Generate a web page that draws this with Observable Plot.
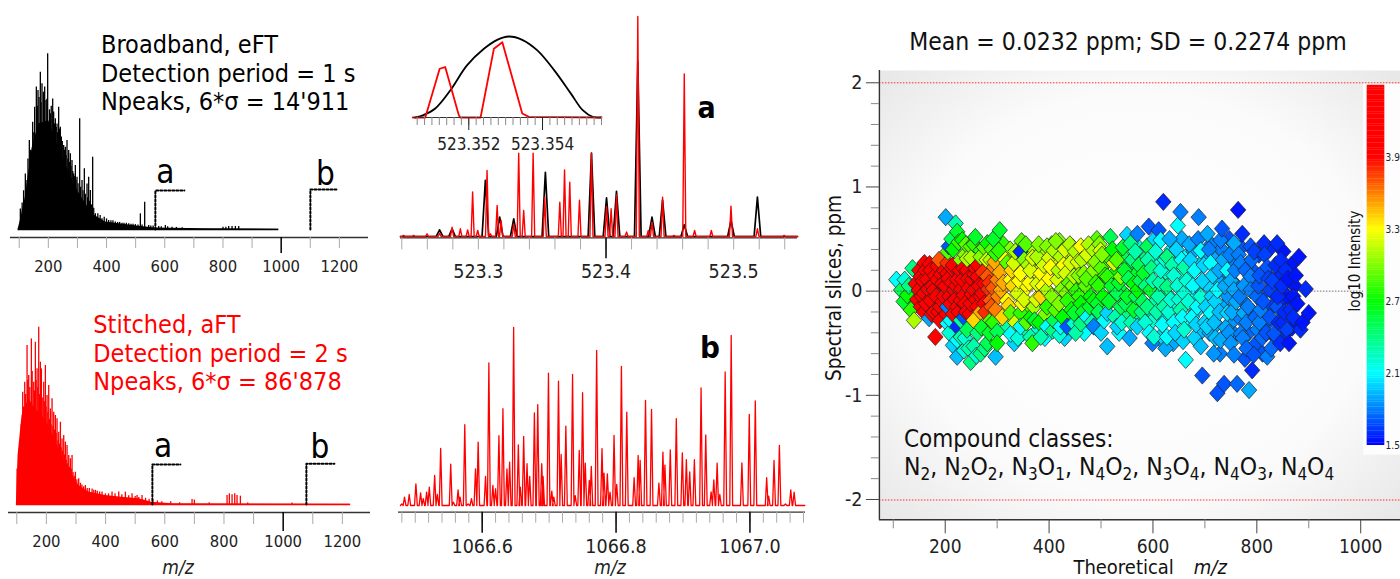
<!DOCTYPE html>
<html><head><meta charset="utf-8">
<script src="https://cdn.jsdelivr.net/npm/d3@7"></script>
<script src="https://cdn.jsdelivr.net/npm/@observablehq/plot@0.6"></script>
<style>
body{margin:0;background:#fff;}
#root{position:relative;width:1400px;height:579px;overflow:hidden;background:#fff;}
</style></head>
<body><div id="root"></div>
<script>
const FONT = "'DejaVu Sans Condensed','DejaVu Sans',sans-serif";

// ---------- Broadband eFT spectrum (top-left): [m/z, relative intensity]
const bbEnvelope = [[96,0],[103.8,5.1],[121,18.4],[143.9,46],[166.8,60],[201.1,62],[235.5,46],[269.9,33],[304.2,21],[350,8.9],[395.9,4.2],[510.4,1.9],[567.7,0.9],[739.5,0.4],[991.5,0.2],[992,0]];
const bbPeaks = [[103.8,11.7],[110,15],[115,22],[121.0,31.6],[126.7,27.8],[130,40],[134.7,50.6],[139,45],[146.2,61.0],[150,55],[153.0,69.5],[158.8,80.9],[162,70],[164.5,79.0],[168,75],[172.5,89.4],[175,72],[178.2,82.8],[183,78],[187.4,80.9],[192.0,73.3],[195,74],[197.7,99.8],[201.1,60.0],[204,68],[206.9,65.7],[210,70],[214.9,74.2],[218.3,66.7],[221,60],[224.1,62.9],[227,58],[229.8,60.0],[232,55],[235.5,69.5],[238,57],[241.2,58.1],[244.7,52.5],[248,50],[252.7,47.7],[255,45],[258.4,46.8],[261,42],[264.1,50.6],[267,40],[269.9,44.9],[272,38],[275.6,43.0],[278,36],[281.3,39.2],[284,33],[287.1,31.6],[290,30],[292.8,36.4],[295,28],[298.5,29.7],[302,26],[307.7,62.9],[311,24],[315.7,27.8],[319,22],[323.7,34.5],[327,20],[332.9,25.9],[335,18],[338.6,29.7],[341,16],[344.3,22.2],[348,14],[352.3,41.1],[356,12],[361.5,8.9],[370,9],[378,8],[384.4,6.1],[392,7],[400,6],[407.3,5.1],[415,5],[422,5],[430.2,4.2],[438,4],[445,4],[453.2,3.6],[460,3.5],[468,3.5],[476.1,3.2],[484,3],[491,3],[499.0,2.8],[508,2.5],[516.2,8.9],[522,2.5],[531.0,15.5],[544.8,2.3],[552,2],[560,2],[579.2,1.7],[588,1.5],[602.1,2.3],[610,1.5],[625.0,1.3],[640,1.2],[660,1],[800,1.3],[810,1.3],[819.7,1.7],[831.2,1.7],[842.6,1.7],[854.1,1.7]];

// ---------- Stitched aFT spectrum (bottom-left)
const stEnvelope = [[98.6,0],[104.3,27.6],[117.8,50.2],[140.3,59.6],[162.8,53.9],[185.4,50.2],[207.9,44.5],[241.7,31.4],[275.5,20.1],[309.2,10.7],[343.0,7.0],[399.3,5.1],[455.6,4.1],[511.9,3.2],[557.0,1.3],[624.5,0.4],[1227,0.2],[1228,0]];
const stPeaks = [[101,20],[106.5,29.5],[109,32],[112.2,35.2],[115,45],[120.0,63.3],[123,55],[126.8,69.0],[130,62],[134.7,89.7],[137,70],[140.3,72.7],[144,66],[149.3,93.4],[152,75],[157.2,69.0],[160,64],[162.8,91.5],[165,70],[168.5,76.5],[171,66],[174.1,100],[177,62],[179.7,80.3],[183.1,76.5],[186,60],[191.0,69.0],[193,58],[196.6,78.4],[199,55],[202.3,61.5],[205,52],[207.9,67.1],[211,48],[213.5,53.9],[216,45],[219.1,59.6],[222,44],[224.8,52.1],[227,42],[230.4,50.2],[233,40],[236.0,48.3],[239,36],[241.7,40.8],[244,34],[247.3,46.4],[250,32],[252.9,37.0],[255,30],[258.6,38.9],[261,28],[264.2,35.2],[267,25],[269.8,33.3],[272,23],[275.5,27.6],[278,21],[281.1,25.8],[284,20],[286.7,27.6],[290,18],[294,16],[298.0,18.2],[303,14],[309.2,14.5],[315,12],[320,11],[326,10],[331.8,10.7],[338,9],[345,9],[354.3,8.8],[360,8],[366,8],[372,7.5],[380,7],[388,7],[399.3,6.0],[410,6],[421.8,7.0],[432,6],[444.4,7.0],[455,5.5],[466.9,7.0],[478,5],[489.4,6.0],[500,4.5],[506.3,5.1],[512,4],[523.2,5.1],[535,3.5],[547,3],[560,2.5],[575,2],[590,1.5],[620,1.5],[650,1],[692.1,2.8],[700,2.5],[750,1],[810.4,5.1],[818.2,6.0],[827.3,5.5],[836.3,6.0],[844.1,5.1],[855.4,4.7],[880,0.8],[1029.9,0.8]];

// ---------- Zoom a (m/z 523.24-523.55): [m/z, relative intensity]
const aRedPeaks = [[523.2414,0.5],[523.2493,0.5],[523.2598,1.2],[523.2696,1.5],[523.2794,4.2],[523.2859,3.5],[523.2916,3.0],[523.2955,20.2],[523.2995,2.7],[523.3068,30.0],[523.3094,1.2],[523.3147,14.1],[523.3178,7.3],[523.3277,5.7],[523.3316,37.9],[523.3355,11.8],[523.3429,37.9],[523.3520,17.9],[523.3638,15.6],[523.3675,30.3],[523.3716,24.7],[523.3792,16.5],[523.3886,37.9],[523.4004,13.6],[523.4040,12.6],[523.4082,19.0],[523.4161,2.0],[523.4249,100],[523.4331,2.7],[523.4360,6.5],[523.4443,17.9],[523.4532,0.5],[523.4613,73.9],[523.4694,2.7],[523.4825,2.7],[523.4979,13.8],[523.5186,3.5],[523.5395,0.5]];
const aBlackPeaks = [[523.2696,3.0],[523.2794,3.5],[523.3055,25.5],[523.3167,8.8],[523.3277,8.0],[523.3525,29.2],[523.3886,37.9],[523.4004,17.6],[523.4082,20.5],[523.4249,79.4],[523.4360,8.8],[523.4443,16.5],[523.4613,5.3],[523.4979,7.3],[523.5186,17.9]];
// inset profiles around m/z 523.352-523.354
const insetBlack = [[523.35055,0],[523.35077,2.9],[523.35109,11.1],[523.35150,33.6],[523.35195,64.3],[523.35241,84.8],[523.35277,95.9],[523.35309,100],[523.35345,95.9],[523.35386,82.8],[523.35432,58.2],[523.35477,29.5],[523.35509,9.0],[523.35536,0.8],[523.35559,0]];
const insetRed = [[523.35048,0],[523.35082,0],[523.35121,60.2],[523.35136,62.3],[523.35173,2.9],[523.35177,0],[523.35232,0],[523.35268,84.8],[523.35291,93.0],[523.35345,4.9],[523.35363,0.8],[523.35560,0]];

// ---------- Zoom b (m/z 1066.48-1067.08)
const bRedPeaks = [[1066.480,0.9],[1066.484,4.7],[1066.491,6.2],[1066.501,12.2],[1066.508,7.1],[1066.512,3.8],[1066.517,7.5],[1066.521,10.3],[1066.529,16.9],[1066.533,6.2],[1066.538,32.1],[1066.553,23.3],[1066.557,1.9],[1066.564,8.8],[1066.567,4.7],[1066.574,45.4],[1066.579,0.9],[1066.584,3.8],[1066.590,20.6],[1066.594,35.6],[1066.605,16.3],[1066.610,80.1],[1066.616,11.3],[1066.620,9.4],[1066.625,39.2],[1066.631,54.4],[1066.637,20.6],[1066.641,24.4],[1066.647,100],[1066.654,34.1],[1066.657,10.3],[1066.662,38.8],[1066.667,23.5],[1066.671,16.3],[1066.678,52.0],[1066.683,56.7],[1066.689,23.5],[1066.691,16.3],[1066.699,74.3],[1066.704,8.1],[1066.707,4.7],[1066.714,69.8],[1066.718,28.7],[1066.725,44.6],[1066.735,73.7],[1066.739,5.6],[1066.745,30.9],[1066.750,63.4],[1066.754,23.8],[1066.760,14.1],[1066.763,22.0],[1066.771,87.2],[1066.779,32.0],[1066.782,18.2],[1066.787,17.8],[1066.791,7.5],[1066.797,39.4],[1066.801,11.9],[1066.808,78.2],[1066.816,52.5],[1066.827,15.7],[1066.833,28.1],[1066.836,25.3],[1066.844,59.1],[1066.853,54.0],[1066.864,12.6],[1066.870,30.0],[1066.873,22.7],[1066.881,31.3],[1066.890,48.8],[1066.899,29.6],[1066.905,25.7],[1066.910,18.9],[1066.917,25.7],[1066.927,66.0],[1066.934,39.6],[1066.942,7.7],[1066.946,14.4],[1066.951,23.8],[1066.955,6.2],[1066.963,75.0],[1066.972,95.5],[1066.988,24.0],[1066.999,51.2],[1067.008,58.7],[1067.025,15.6],[1067.028,5.3],[1067.036,25.3],[1067.044,33.8],[1067.053,0.9],[1067.061,8.8],[1067.066,7.5]];

// ---------- Mass error scatter: [theoretical m/z, error ppm, log10 intensity]
const scatterFill = [[312,0.45,2.8],[318,-0.35,2.3],[325,0.40,3.0],[333,-0.50,2.0],[340,0.30,3.2],[347,0.48,2.9],[350,-0.40,2.3],[359,-0.20,2.9],[362,0.40,3.1],[372,0.20,3.2],[374,-0.40,2.2],[386,0.38,3.1],[386,-0.30,2.4],[392,-0.45,2.1],[394,0.20,3.2],[402,-0.22,2.7],[405,0.45,3.0],[412,0.30,3.2],[415,-0.32,2.3],[420,0.48,3.0],[430,-0.45,2.0],[435,0.33,3.2],[437,-0.28,2.4],[446,0.42,3.1],[453,0.20,3.1],[454,-0.30,2.3],[466,0.40,3.1],[468,-0.40,2.1],[475,-0.10,2.7],[480,0.30,3.1],[484,-0.22,2.4],[491,-0.35,2.0],[492,0.50,2.9],[496,0.18,2.9],[498,-0.28,2.3],[505,0.25,2.9],[509,-0.15,2.6],[516,0.32,2.8],[523,-0.05,2.6],[528,0.18,2.7],[535,-0.40,2.1],[537,0.35,2.7],[544,-0.02,2.6],[548,0.30,2.5],[552,-0.22,2.4],[556,0.22,2.5],[561,-0.08,2.5],[565,0.15,2.6],[568,-0.25,2.3],[572,0.42,2.2],[577,0.02,2.4],[583,0.30,2.4],[587,-0.22,2.3],[591,0.12,2.4],[596,-0.30,2.2],[598,0.40,2.1],[604,-0.10,2.3],[608,0.28,2.2],[612,-0.45,2.0],[617,0.00,2.3],[622,-0.25,2.2],[626,0.18,2.2],[631,-0.05,2.2],[636,0.40,2.1],[639,-0.50,1.9],[642,0.25,2.2],[646,-0.15,2.2],[652,0.12,2.2],[656,0.50,1.9],[658,-0.48,2.0],[662,0.32,2.1],[667,-0.30,2.1],[671,0.18,2.1],[674,-0.05,2.1],[678,0.38,1.9],[682,-0.20,2.0],[686,0.05,2.0],[690,0.25,2.0],[694,-0.38,1.95],[697,-0.10,2.0],[701,0.35,1.9],[706,0.05,2.0],[709,-0.40,1.9],[712,0.45,1.8],[716,-0.20,1.95],[719,0.30,1.9],[722,-0.32,1.9],[726,0.10,1.9],[729,-0.60,1.8],[732,0.40,1.8],[736,-0.15,1.9],[739,0.20,1.85],[744,-0.05,1.85],[747,0.50,1.7],[751,-0.30,1.85],[754,0.28,1.8],[758,-0.42,1.8],[761,0.05,1.8],[766,-0.25,1.8],[770,0.42,1.7],[774,-0.10,1.8],[777,-0.65,1.7],[781,0.25,1.7],[784,-0.40,1.75],[786,0.05,1.75],[792,-0.20,1.75],[796,0.18,1.7],[799,-0.50,1.7],[804,0.35,1.65],[808,-0.05,1.7],[811,-0.60,1.7],[817,0.18,1.65],[821,-0.30,1.7],[824,0.40,1.6],[829,-0.15,1.65],[834,0.05,1.65],[837,-0.45,1.65],[843,0.15,1.6],[847,-0.10,1.6],[851,0.38,1.55],[856,-0.40,1.6],[859,-0.05,1.55],[866,0.25,1.55],[868,-0.35,1.55],[873,0.05,1.55]];
const scatterLow = [[106,0.11,2.1],[115,0.01,2.5],[120,-0.10,2.6],[122,0.11,2.2],[127,-0.04,2.7],[130,0.05,2.4],[134,-0.18,2.8],[137,0.22,2.4],[140,-0.28,3.1],[143,0.07,4.2],[146,-0.08,4.3],[149,0.01,4.3],[150,0.20,4.2],[153,0.14,4.2],[153,-0.15,4.1],[155,-0.05,4.3],[157,0.10,4.4],[159,-0.02,4.4],[159,-0.20,4.0],[160,0.27,4.0],[162,0.20,4.2],[163,-0.12,4.3],[165,0.11,4.4],[167,0.02,4.2],[169,-0.26,1.9],[170,0.26,4.0],[172,0.20,4.1],[172,-0.09,4.3],[174,-0.22,4.1],[175,0.05,4.4],[178,0.01,4.3],[178,-0.20,4.2],[180,0.15,4.3],[181,-0.44,4.1],[183,-0.05,4.4],[185,0.11,4.3],[185,0.24,4.1],[187,-0.20,4.2],[188,0.30,3.7],[190,-0.15,4.2],[190,-0.28,4.0],[192,0.16,4.3],[194,0.07,4.3],[195,-0.10,4.1],[197,-0.05,4.4],[198,0.20,4.3],[200,0.05,4.4],[201,0.71,1.9],[202,-0.22,4.0],[204,0.17,4.2],[204,0.27,3.8],[204,-0.15,1.8],[204,-0.31,2.1],[205,0.38,2.9],[206,0.12,4.2],[207,0.43,1.7],[208,-0.05,4.3],[208,-0.40,2.2],[210,-0.12,4.1],[210,-0.28,2.1],[212,0.08,4.4],[212,0.50,2.5],[213,0.22,4.1],[215,-0.22,4.0],[215,0.25,3.9],[215,0.40,2.7],[215,-0.52,2.0],[217,0.01,4.2],[219,-0.08,4.3],[220,0.65,2.3],[221,0.05,4.2],[223,0.11,4.3],[223,-0.15,4.2],[223,-0.34,1.6],[223,-0.47,2.1],[223,-0.63,1.95],[223,0.57,2.6],[226,0.47,2.8],[226,-0.20,4.1],[228,0.20,4.2],[230,-0.09,4.2],[230,-0.44,2.3],[230,-0.28,2.3],[230,0.30,3.0],[231,0.02,4.3],[233,0.11,4.2],[233,0.49,2.7],[235,0.22,4.1],[236,-0.04,4.3],[236,-0.25,1.7],[236,-0.57,2.2],[238,0.35,3.0],[238,-0.12,4.2],[238,-0.45,2.2],[240,-0.20,4.0],[240,0.45,2.9],[242,0.20,4.1],[242,-0.37,2.5],[242,0.31,3.1],[244,0.12,4.0],[245,0.03,4.2],[245,-0.55,2.3],[247,-0.22,3.9],[249,0.43,2.9],[249,-0.12,4.1],[249,-0.68,2.4],[250,0.32,3.1],[251,-0.03,4.1],[252,0.11,4.1],[255,0.01,4.0],[255,-0.28,3.4],[255,-0.53,2.3],[255,0.45,2.8],[256,0.16,4.0],[258,0.22,4.1],[258,0.52,2.6],[259,-0.08,4.0],[260,-0.62,2.2],[262,0.14,4.0],[262,-0.15,4.0],[262,-0.40,2.4],[263,0.25,3.9],[265,0.05,4.0],[268,-0.05,3.9],[268,0.39,2.8],[268,0.33,3.0],[268,-0.20,3.5],[268,-0.60,2.4],[270,-0.35,2.6],[271,-0.02,3.9],[272,0.18,3.8],[275,0.07,3.9],[275,-0.12,3.9],[275,0.42,2.9],[276,-0.55,2.4],[277,-0.20,3.8],[280,0.30,3.2],[281,0.14,3.7],[281,0.46,2.7],[281,-0.50,2.5],[283,0.02,3.8],[285,0.08,3.8],[285,-0.40,2.6],[287,-0.09,3.7],[287,0.30,3.1],[287,-0.28,2.9],[289,-0.15,3.7],[290,0.40,2.9],[292,0.03,3.7],[292,-0.30,2.8],[293,0.50,2.6],[294,0.23,3.6],[295,0.28,3.5],[297,-0.18,3.6],[297,0.36,2.8],[297,-0.63,1.95],[300,0.11,3.6],[300,-0.39,2.5],[300,-0.50,2.7]];
const scatterMid = [[302,-0.05,3.6],[303,0.39,2.8],[305,0.585,2.6],[305,0.18,3.5],[307,0.01,3.5],[310,-0.25,3.4],[312,0.08,3.5],[316,0.30,3.3],[319,-0.09,3.3],[319,0.27,2.9],[322,-0.14,3.4],[326,0.11,3.3],[326,-0.21,2.9],[326,-0.41,2.1],[328,0.20,3.4],[330,0.05,3.4],[332,0.27,3.2],[335,-0.30,3.2],[335,0.38,3.1],[339,-0.02,3.2],[340,-0.45,2.2],[342,0.10,3.3],[345,0.17,3.3],[345,-0.21,2.8],[345,0.38,1.6],[345,-0.34,2.1],[348,-0.12,3.3],[352,-0.08,3.2],[352,0.30,3.0],[355,0.45,2.9],[356,-0.30,2.9],[358,0.04,3.3],[360,0.25,3.1],[362,0.08,3.3],[364,0.20,3.2],[364,-0.44,2.3],[365,-0.25,2.7],[368,-0.50,2.8],[368,0.32,3.2],[371,-0.15,3.1],[372,-0.28,2.6],[375,-0.08,3.2],[377,0.07,3.2],[377,0.33,3.1],[380,0.45,3.0],[381,-0.30,2.7],[384,0.17,3.3],[384,-0.05,3.4],[384,-0.44,2.3],[388,0.05,3.3],[390,0.25,3.2],[393,-0.22,3.0],[396,0.01,3.1],[396,0.43,3.0],[396,-0.15,2.8],[396,-0.34,2.1],[400,0.32,3.2],[400,0.12,3.3],[403,0.23,3.3],[405,-0.05,3.0],[407,-0.38,2.4],[409,0.39,3.1],[409,-0.28,2.5],[412,-0.18,2.9],[413,0.48,3.0],[416,0.11,3.2],[418,0.20,3.1],[419,-0.12,3.0],[420,-0.42,2.2],[422,0.33,3.1],[422,-0.34,2.1],[425,0.02,3.0],[426,-0.25,2.7],[428,0.25,3.3],[430,0.40,3.2],[432,0.17,3.2],[433,-0.02,3.0],[435,-0.09,2.8],[435,-0.34,1.7],[438,0.08,2.9],[440,0.45,3.1],[441,0.27,3.2],[443,-0.18,2.7],[445,0.05,3.0],[448,0.14,3.1],[448,-0.31,2.2],[448,-0.21,2.6],[450,0.38,3.1],[451,-0.40,2.3],[452,0.00,2.8],[455,0.28,3.2],[457,0.15,3.0],[458,-0.05,2.8],[461,0.43,3.3],[461,-0.12,2.7],[461,-0.31,2.4],[463,0.30,3.1],[465,-0.20,2.6],[467,0.17,3.0],[470,0.05,2.9],[472,0.12,2.9],[473,0.35,3.2],[473,-0.25,2.1],[476,0.45,3.1],[478,-0.15,2.6],[480,-0.05,2.7],[482,-0.30,2.3],[486,0.39,3.1],[486,0.20,3.0],[486,-0.09,2.7],[486,-0.34,1.8],[489,0.28,3.0],[490,0.08,2.8],[493,-0.12,2.6],[495,0.05,2.8],[495,-0.20,2.5],[497,0.45,3.0],[499,0.39,3.2],[500,0.22,2.9],[500,-0.40,2.0],[502,0.35,3.0],[504,-0.05,2.7],[506,-0.28,2.1],[508,0.15,2.8]];
const scatterHigh = [[512,0.14,2.8],[512,-0.21,2.0],[512,-0.53,1.95],[515,-0.10,2.6],[518,0.52,2.5],[520,0.05,2.6],[522,0.40,2.7],[525,0.27,3.2],[527,-0.25,2.3],[530,0.30,2.9],[531,-0.02,2.5],[531,-0.34,2.0],[534,0.08,2.6],[538,0.14,3.0],[538,-0.15,2.5],[540,-0.30,2.2],[542,0.42,2.6],[545,0.20,2.6],[547,-0.12,2.5],[550,0.54,2.0],[550,-0.05,2.6],[553,0.12,2.5],[555,-0.45,1.9],[557,0.46,2.4],[558,-0.30,2.3],[560,0.30,2.4],[563,0.07,2.7],[563,-0.18,2.6],[566,0.38,2.3],[567,-0.05,2.5],[570,0.55,1.8],[570,0.01,2.7],[570,-0.34,2.0],[573,0.25,2.5],[575,0.10,2.5],[578,-0.20,2.4],[580,-0.10,2.5],[582,0.17,2.6],[585,-0.30,2.2],[586,0.05,2.4],[589,0.43,2.5],[589,-0.15,2.4],[590,0.30,2.3],[592,0.62,1.7],[593,-0.40,2.1],[595,0.01,2.6],[597,0.22,2.4],[599,-0.50,1.8],[600,0.10,2.3],[602,-0.44,2.2],[603,0.50,2.0],[605,0.38,2.2],[607,-0.20,2.3],[610,-0.05,2.3],[611,0.585,1.7],[613,0.08,2.3],[615,0.49,2.1],[615,0.20,2.2],[618,-0.32,2.1],[620,0.857,1.6],[621,-0.15,2.3],[623,0.30,2.2],[624,-0.55,1.9],[627,0.33,2.4],[627,0.04,2.4],[627,-0.44,2.1],[630,-0.20,2.2],[632,0.50,1.9],[634,-0.08,2.2],[637,0.25,2.3],[640,0.15,2.2],[640,-0.30,2.1],[643,-0.40,2.0],[645,0.40,2.0],[647,0.05,2.2],[648,0.63,2.1],[650,-0.08,2.2],[653,0.76,1.8],[653,-0.18,2.3],[655,0.30,2.1],[657,-0.25,2.1],[660,0.23,2.3],[660,-0.02,2.2],[660,-0.37,2.2],[663,-0.66,2.1],[665,0.10,2.2],[668,-0.10,2.2],[670,0.45,1.9],[672,0.30,2.0],[675,-0.25,2.1],[677,0.05,2.1],[680,0.20,2.1],[680,-0.45,2.0],[683,-0.32,2.0],[685,-0.15,2.1],[687,0.50,1.8],[688,0.71,1.8],[692,0.39,2.1],[692,-0.05,2.2],[692,-0.53,1.95],[695,0.10,2.0],[695,-0.81,1.7],[698,0.25,2.0],[700,-0.30,2.0],[702,-0.15,2.0],[704,-0.34,2.0],[705,0.55,1.9],[708,0.40,1.8],[711,0.27,2.1],[711,-0.21,2.1],[713,-0.05,2.0],[715,0.15,2.0],[717,-0.60,1.85],[718,-0.30,1.95],[720,-0.10,2.0],[720,-0.45,1.95],[724,0.01,2.1],[724,-0.98,1.7],[727,0.20,1.9],[728,-0.20,1.95],[730,0.49,1.8],[730,-0.47,1.9],[733,0.60,1.7],[735,0.30,1.9],[737,-0.89,1.7],[738,0.05,1.9],[740,-0.35,1.9],[743,0.20,2.1],[743,-0.21,2.0],[746,-0.40,1.85],[748,0.35,1.8],[750,0.10,1.9],[750,-0.50,1.85],[752,-0.20,1.9],[756,0.46,1.9],[756,0.01,1.9],[756,-0.61,1.8],[758,0.20,1.8],[760,-0.10,1.9],[762,-0.89,1.75],[764,0.78,1.55],[765,0.35,1.8],[767,-0.05,1.8],[769,0.27,1.8],[769,-0.41,1.8],[772,0.55,1.6],[773,-0.45,1.8],[775,0.05,1.85],[775,-0.21,1.9],[778,0.20,1.75],[780,-0.30,1.8],[780,-0.55,1.75],[783,-0.15,1.8],[785,-0.95,1.9],[788,0.43,1.7],[788,0.14,1.8],[788,0.01,1.8],[790,0.30,1.75],[791,-0.76,1.6],[794,-0.61,1.7],[795,0.38,1.65],[797,-0.25,1.75],[800,-0.05,1.75],[801,-0.37,1.8],[803,0.05,1.7],[805,0.15,1.7],[805,-0.30,1.8],[807,-0.18,1.8],[810,-0.45,1.75],[812,-0.10,1.7],[814,0.46,1.6],[815,0.35,1.65],[818,-0.40,1.7],[820,0.23,1.7],[820,-0.63,1.8],[822,0.12,1.65],[825,-0.25,1.7],[826,0.01,1.65],[828,-0.55,1.75],[830,0.10,1.65],[833,-0.41,1.7],[836,0.25,1.6],[839,0.46,1.6],[839,-0.15,1.7],[840,-0.05,1.6],[842,-0.30,1.6],[845,-0.50,1.6],[846,0.30,1.6],[848,0.05,1.6],[850,-0.30,1.6],[853,-0.20,1.6],[855,0.20,1.6],[858,-0.37,1.65],[860,0.12,1.55],[862,-0.50,1.55],[865,-0.18,1.6],[870,-0.05,1.55],[870,-0.25,1.6],[875,0.15,1.55],[878,-0.12,1.55],[881,0.33,1.55],[884,-0.37,1.6],[888,-0.30,1.55],[894,0.02,1.6],[900,-0.21,1.55]];

// ---------- tick definitions
const leftMinorTicks = [100,200,300,400,500,600,700,800,900,1100,1200];
const leftMajorTicks = [1000];
const leftTickLabels = [200,400,600,800,1000,1200];
const aTickLabels = [523.3,523.4,523.5];
const aMajorTicks = [523.4];
const insetTickLabels = [523.352,523.354];
const bTickLabels = [1066.6,1066.8,1067.0];
const scatterXLabels = [200,400,600,800,1000];
const scatterXMinor = [100,300,500,700,900];
const scatterYLabels = [-2,-1,0,1,2];
const colorbarTicks = [1.5,2.1,2.7,3.3,3.9];
const colorStops = [1.5,2.1,2.7,3.3,3.9,4.5];
const colorRange = ["#0000ff","#00ffff","#00ff00","#ffff00","#ff0000","#ff0000"];

// ---------- helpers
const root = document.getElementById("root");
function place(node, left, top) {
  node.style.position = "absolute"; node.style.left = left + "px"; node.style.top = top + "px";
  root.appendChild(node); return node;
}
const baseStyle = {fontFamily: FONT, background: "transparent", overflow: "visible", color: "#111"};
function trace(peaks, hw, x0, x1) {
  const pts = [[x0, 0]];
  peaks.slice().sort((a, b) => a[0] - b[0]).forEach(([m, h]) => { pts.push([m - hw, 0], [m, h], [m + hw, 0]); });
  pts.push([x1, 0]);
  return pts;
}
const X = d => d[0], Y = d => d[1];
const noText = () => "";

// ---------- top-left panel
place(Plot.plot({
  width: 400, height: 290, marginLeft: 10, marginRight: 32, marginTop: 53, marginBottom: 53,
  style: baseStyle, x: {domain: [70, 1300]}, y: {domain: [-4.55, 100], axis: null},
  marks: [
    Plot.areaY(bbEnvelope, {x: X, y: Y, fill: "#000"}),
    Plot.ruleX(bbPeaks, {x: X, y1: 0, y2: Y, stroke: "#000", strokeWidth: 1.3}),
    Plot.ruleY([0], {x1: 96, x2: 992, stroke: "#000", strokeWidth: 1.6}),
    Plot.line([[567.7, 0], [567.7, 22.2], [667.4, 22.2]], {x: X, y: Y, stroke: "#000", strokeWidth: 2, strokeDasharray: "2,2"}),
    Plot.line([[1100.3, 0], [1100.3, 22.7], [1196.6, 22.7]], {x: X, y: Y, stroke: "#000", strokeWidth: 2, strokeDasharray: "2,2"}),
    Plot.ruleY([-4.55], {stroke: "#333", strokeWidth: 1.3}),
    Plot.axisX({ticks: leftMinorTicks, tickSize: 11, stroke: "#aaa", tickFormat: noText, label: null}),
    Plot.axisX({ticks: leftMajorTicks, tickSize: 16, stroke: "#000", strokeWidth: 1.5, tickFormat: noText, label: null}),
    Plot.axisX({ticks: leftTickLabels, tickSize: 0, tickPadding: 23, fontSize: 16.5, color: "#222", tickFormat: d => String(d), label: null})
  ]
}), 0, 0);

// ---------- bottom-left panel
place(Plot.plot({
  width: 400, height: 289, marginLeft: 8, marginRight: 30, marginTop: 36.7, marginBottom: 67,
  style: baseStyle, x: {domain: [72, 1295]}, y: {domain: [-4.51, 100], axis: null},
  marks: [
    Plot.areaY(stEnvelope, {x: X, y: Y, fill: "#ff0000"}),
    Plot.ruleX(stPeaks, {x: X, y1: 0, y2: Y, stroke: "#ff0000", strokeWidth: 1.3}),
    Plot.ruleY([0], {x1: 98.6, x2: 1228, stroke: "#ff0000", strokeWidth: 1.6}),
    Plot.line([[558.1, 0], [558.1, 22.6], [652.7, 22.6]], {x: X, y: Y, stroke: "#000", strokeWidth: 2, strokeDasharray: "2,2"}),
    Plot.line([[1078.4, 0], [1078.4, 23], [1173, 23]], {x: X, y: Y, stroke: "#000", strokeWidth: 2, strokeDasharray: "2,2"}),
    Plot.ruleY([-4.51], {stroke: "#333", strokeWidth: 1.3}),
    Plot.axisX({ticks: leftMinorTicks, tickSize: 12, stroke: "#aaa", tickFormat: noText, label: null}),
    Plot.axisX({ticks: leftMajorTicks, tickSize: 19, stroke: "#000", strokeWidth: 1.5, tickFormat: noText, label: null}),
    Plot.axisX({ticks: leftTickLabels, tickSize: 0, tickPadding: 23, fontSize: 16.5, color: "#222", tickFormat: d => String(d), label: null})
  ]
}), 0, 290);

// ---------- zoom a panel
const aMinor = d3.range(0, 16).map(i => 523.24 + i * 0.02);
place(Plot.plot({
  width: 420, height: 290, marginLeft: 10, marginRight: 13, marginTop: 16, marginBottom: 52.7,
  style: baseStyle, x: {domain: [523.239, 523.550]}, y: {domain: [-0.6, 100], axis: null},
  marks: [
    Plot.line(trace(aBlackPeaks, 0.0026, 523.239, 523.550), {x: X, y: Y, stroke: "#000", strokeWidth: 1.7}),
    Plot.line(trace(aRedPeaks, 0.0012, 523.239, 523.550), {x: X, y: Y, stroke: "#ff0000", strokeWidth: 1.4}),
    Plot.ruleY([-0.6], {stroke: "#333", strokeWidth: 1.3}),
    Plot.axisX({ticks: aMinor, tickSize: 12, stroke: "#aaa", tickFormat: noText, label: null}),
    Plot.axisX({ticks: aMajorTicks, tickSize: 21, stroke: "#000", strokeWidth: 1.5, tickFormat: noText, label: null}),
    Plot.axisX({ticks: aTickLabels, tickSize: 0, tickPadding: 26, fontSize: 19.5, color: "#222", tickFormat: d => d.toFixed(1), label: null})
  ]
}), 390, 0);

// ---------- inset of zoom a
const insetMinor = d3.range(0, 26).map(i => 523.3506 + i * 0.0002);
place(Plot.plot({
  width: 205, height: 140, marginLeft: 8, marginRight: 9, marginTop: 16, marginBottom: 43,
  style: baseStyle, x: {domain: [523.3505, 523.3556]}, y: {domain: [0, 100], axis: null},
  marks: [
    Plot.line(insetBlack, {x: X, y: Y, stroke: "#000", strokeWidth: 1.8, curve: "catmull-rom"}),
    Plot.line(insetRed, {x: X, y: Y, stroke: "#ff0000", strokeWidth: 1.8}),
    Plot.ruleY([0], {stroke: "#333", strokeWidth: 1.2}),
    Plot.axisX({ticks: insetMinor, tickSize: 8, stroke: "#888", tickFormat: noText, label: null}),
    Plot.axisX({ticks: insetTickLabels, tickSize: 13, tickPadding: 7, fontSize: 17, stroke: "#222", color: "#222", tickFormat: d => d.toFixed(3), label: null})
  ]
}), 405, 20);

// ---------- zoom b panel
const bMinor = d3.range(0, 31).map(i => 1066.48 + i * 0.02);
place(Plot.plot({
  width: 420, height: 289, marginLeft: 8, marginRight: 5, marginTop: 37, marginBottom: 67.3,
  style: baseStyle, x: {domain: [1066.475, 1067.083]}, y: {domain: [-3.76, 100], axis: null},
  marks: [
    Plot.line(trace(bRedPeaks, 0.0021, 1066.478, 1067.082), {x: X, y: Y, stroke: "#ff0000", strokeWidth: 1.3}),
    Plot.ruleY([-3.76], {stroke: "#333", strokeWidth: 1.3}),
    Plot.axisX({ticks: bMinor, tickSize: 11, stroke: "#aaa", tickFormat: noText, label: null}),
    Plot.axisX({ticks: bTickLabels, tickSize: 21, stroke: "#000", strokeWidth: 1.5, tickFormat: noText, label: null}),
    Plot.axisX({ticks: bTickLabels, tickSize: 0, tickPadding: 27, fontSize: 19.5, color: "#222", tickFormat: d => d.toFixed(1), label: null})
  ]
}), 390, 290);

// ---------- mass error scatter
const diamondSym = {draw(ctx, size) {
  const r = Math.sqrt(size / Math.PI), w = r * 0.9;
  ctx.moveTo(0, -r); ctx.lineTo(w, 0); ctx.lineTo(0, r); ctx.lineTo(-w, 0); ctx.closePath();
}};
const colorOpts = {type: "linear", domain: colorStops, range: colorRange, interpolate: "rgb"};
const scatterPoints = [...scatterFill, ...scatterLow, ...scatterMid, ...scatterHigh];
const yMinor = [-1.8,-1.6,-1.4,-1.2,-0.8,-0.6,-0.4,-0.2,0.2,0.4,0.6,0.8,1.2,1.4,1.6,1.8];
const scatterSvg = Plot.plot({
  width: 590, height: 579, marginLeft: 68.9, marginRight: 0, marginTop: 70, marginBottom: 59.7,
  style: baseStyle, x: {domain: [73.3, 1076.6]}, y: {domain: [-2.195, 2.118]}, color: colorOpts,
  marks: [
    Plot.frame({fill: "url(#bgGrad)", stroke: null}),
    Plot.ruleY([2], {stroke: "#ff2a2a", strokeWidth: 1, strokeDasharray: "1.5,1.5"}),
    Plot.ruleY([-2], {stroke: "#ff2a2a", strokeWidth: 1, strokeDasharray: "1.5,1.5", dy: 0.5}),
    Plot.dot(scatterPoints, {x: d => d[0], y: d => d[1], fill: d => d[2], stroke: "#1e1e1e", strokeWidth: 0.7, symbol: diamondSym, r: 8.6}),
    Plot.ruleY([0], {stroke: "#444", strokeWidth: 1, strokeDasharray: "1.5,1.5", strokeOpacity: 0.75}),
    Plot.ruleX([73.3], {stroke: "#333", strokeWidth: 1.4}),
    Plot.ruleY([-2.195], {stroke: "#333", strokeWidth: 1.4}),
    Plot.axisY({ticks: yMinor, tickSize: 8, stroke: "#888", tickFormat: noText, label: null}),
    Plot.axisY({ticks: scatterYLabels, tickSize: 13, tickPadding: 4, fontSize: 19.5, stroke: "#444", color: "#222", tickFormat: d => d < 0 ? "-" + (-d) : String(d), label: null}),
    Plot.axisX({ticks: scatterXMinor, tickSize: 9, stroke: "#888", tickFormat: noText, label: null}),
    Plot.axisX({ticks: scatterXLabels, tickSize: 14, tickPadding: 6, fontSize: 19, stroke: "#444", color: "#222", tickFormat: d => String(d), label: null})
  ]
});
const defs = d3.select(scatterSvg).insert("defs", ":first-child");
const grad = defs.append("radialGradient").attr("id", "bgGrad").attr("cx", "50%").attr("cy", "50%").attr("r", "72%");
grad.append("stop").attr("offset", "0%").attr("stop-color", "#ffffff");
grad.append("stop").attr("offset", "62%").attr("stop-color", "#fbfbfb");
grad.append("stop").attr("offset", "100%").attr("stop-color", "#e6e6e6");
place(scatterSvg, 810, 0);

// ---------- colour bar
const cbSteps = d3.range(1.5, 4.5, 0.02);
place(Plot.plot({
  width: 60, height: 400, marginLeft: 26.7, marginRight: 15.7, marginTop: 25, marginBottom: 15,
  style: baseStyle, x: {domain: [0, 1], axis: null}, y: {domain: [1.5, 4.5], axis: null}, color: colorOpts,
  marks: [
    Plot.rect([0], {x1: -0.2, x2: 2.2, y1: 1.42, y2: 4.51, fill: "#fdfdfd"}),
    Plot.rect(cbSteps, {x1: 0, x2: 1, y1: d => d, y2: d => d + 0.022, fill: d => d + 0.01}),
    Plot.text(colorbarTicks, {x: 1, y: d => d, dx: 0.8, text: d => d.toFixed(1), textAnchor: "start", fontSize: 10, fill: "#222"})
  ]
}), 1340, 60);

// ---------- text annotations
const ov = d3.create("svg").attr("width", 1400).attr("height", 579)
  .style("position", "absolute").style("left", "0px").style("top", "0px").style("font-family", FONT);
function txt(x, y, s, attrs = {}) {
  const t = ov.append("text").attr("x", x).attr("y", y).text(s);
  for (const k in attrs) t.attr(k, attrs[k]);
  return t;
}
const tlLines = ["Broadband, eFT", "Detection period = 1 s", "Npeaks, 6*\u03c3 = 14'911"];
const blLines = ["Stitched, aFT", "Detection period = 2 s", "Npeaks, 6*\u03c3 = 86'878"];
tlLines.forEach((s, i) => txt(101, 53.3 + i * 28.35, s, {"font-size": 25, fill: "#000"}));
blLines.forEach((s, i) => txt(93.3, 333.3 + i * 28.35, s, {"font-size": 25, fill: "#ff0000"}));
txt(165.3, 183.3, "a", {"font-size": 33, "text-anchor": "middle"});
txt(325.5, 185, "b", {"font-size": 33, "text-anchor": "middle"});
txt(163, 456.7, "a", {"font-size": 33, "text-anchor": "middle"});
txt(320, 458.3, "b", {"font-size": 33, "text-anchor": "middle"});
txt(706.5, 118, "a", {"font-size": 30, "font-weight": "bold", "text-anchor": "middle"});
txt(710, 358, "b", {"font-size": 31, "font-weight": "bold", "text-anchor": "middle"});
txt(178, 573.5, "m/z", {"font-size": 19, "font-style": "italic", "text-anchor": "middle", fill: "#222"});
txt(610, 573.5, "m/z", {"font-size": 19, "font-style": "italic", "text-anchor": "middle", fill: "#222"});
txt(1128, 50, "Mean = 0.0232 ppm; SD = 0.2274 ppm", {"font-size": 24.5, "text-anchor": "middle", fill: "#111"});
txt(0, 0, "Spectral slices, ppm", {"font-size": 20.5, "text-anchor": "middle", fill: "#111", transform: "translate(841,288) rotate(-90)"});
txt(0, 0, "log10 Intensity", {"font-size": 15, "text-anchor": "middle", fill: "#111", transform: "translate(1360,261) rotate(-90)"});
txt(1073.4, 573.5, "Theoretical", {"font-size": 20, fill: "#111"});
txt(1193.8, 573.5, "m/z", {"font-size": 20, "font-style": "italic", fill: "#111"});
txt(904, 446.7, "Compound classes:", {"font-size": 24, fill: "#111"});
const classes = [["N","2"],["N","2","O","2"],["N","3","O","1"],["N","4","O","2"],["N","3","O","4"],["N","4","O","3"],["N","4","O","4"]];
const line2 = ov.append("text").attr("x", 904).attr("y", 475).attr("font-size", 24.5).attr("fill", "#111");
let shift = 0;
function span(s, sub) {
  const target = sub ? 5 : 0;
  const sp = line2.append("tspan").text(s);
  if (target - shift !== 0) sp.attr("dy", target - shift);
  if (sub) sp.attr("font-size", 17);
  shift = target;
}
classes.forEach((c, ci) => {
  for (let i = 0; i < c.length; i += 2) { span(c[i], false); span(c[i + 1], true); }
  if (ci < classes.length - 1) span(", ", false);
});
root.appendChild(ov.node());
</script>
</body></html>
